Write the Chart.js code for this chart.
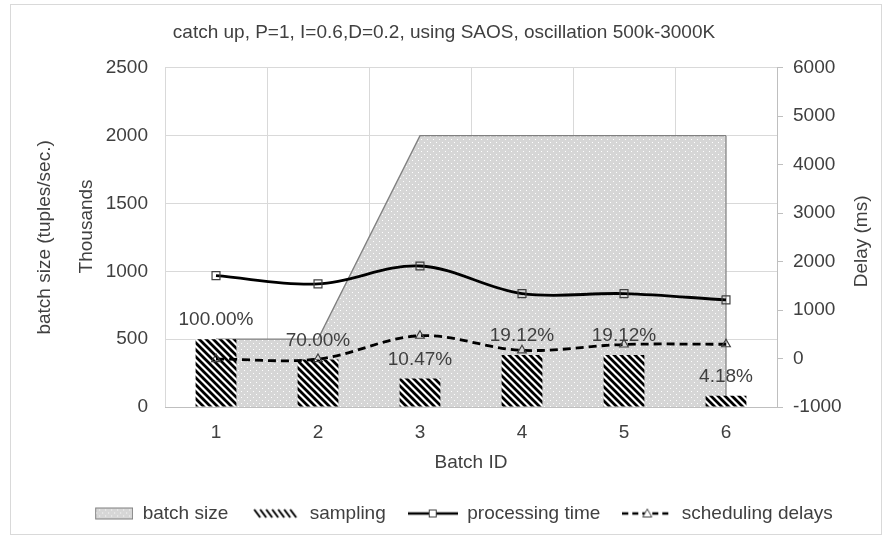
<!DOCTYPE html>
<html>
<head>
<meta charset="utf-8">
<script src="https://cdn.jsdelivr.net/npm/chart.js@4.4.1/dist/chart.umd.min.js"></script>
<style>
  html, body { margin: 0; padding: 0; background: #ffffff; }
  #wrap { width: 888px; height: 540px; }
</style>
</head>
<body>
<div id="wrap"><canvas id="c" width="888" height="540"></canvas></div>
<script>
// ---- data ----
const batchIds = ['1', '2', '3', '4', '5', '6'];
const batchSize = [500, 500, 2000, 2000, 2000, 2000];          // thousands of tuples/sec
const sampling = [500, 350, 209.4, 382.4, 382.4, 83.6];         // thousands of tuples/sec
const samplingLabels = ['100.00%', '70.00%', '10.47%', '19.12%', '19.12%', '4.18%'];
const processingTime = [1710, 1540, 1910, 1340, 1340, 1210];    // ms
const schedulingDelays = [-10, -10, 470, 170, 290, 295];        // ms
const leftTicks = [0, 500, 1000, 1500, 2000, 2500];
const rightTicks = [-1000, 0, 1000, 2000, 3000, 4000, 5000, 6000];

const TEXT = '#404040';
const FONT = '"Liberation Sans", Arial, sans-serif';
Chart.defaults.font.family = FONT;
Chart.defaults.font.size = 19;
Chart.defaults.color = TEXT;

function makeCanvas(w, h, draw) {
  const c = document.createElement('canvas');
  c.width = w; c.height = h;
  draw(c.getContext('2d'));
  return c;
}

// dotted light-grey fill
const dotTile = makeCanvas(6, 6, g => {
  g.fillStyle = '#d6d6d6'; g.fillRect(0, 0, 6, 6);
  g.fillStyle = '#ffffff';
  g.fillRect(1, 1, 1, 1); g.fillRect(4, 4, 1, 1);
});
// black diagonal hatch
const hatchTile = makeCanvas(7, 7, g => {
  g.fillStyle = '#ffffff'; g.fillRect(0, 0, 7, 7);
  g.strokeStyle = '#000000'; g.lineWidth = 2.8;
  g.beginPath();
  for (let k = -1; k <= 1; k++) { g.moveTo(k * 7 - 1, -1); g.lineTo(k * 7 + 8, 8); }
  g.stroke();
});

const canvas = document.getElementById('c');
const ctx = canvas.getContext('2d');
const dotPattern = ctx.createPattern(dotTile, 'repeat');
const hatchPattern = ctx.createPattern(hatchTile, 'repeat');

// legend symbols
const IW = 50, IH = 16;
const legendIcons = [
  makeCanvas(IW, IH, g => {
    g.fillStyle = g.createPattern(dotTile, 'repeat');
    g.fillRect(12, 2, 38, 12);
    g.strokeStyle = '#7f7f7f'; g.lineWidth = 1;
    g.strokeRect(12.5, 2.5, 37, 11);
  }),
  makeCanvas(IW, IH, g => {
    g.strokeStyle = '#000'; g.lineWidth = 2;
    g.beginPath();
    for (let x = 4; x <= 44; x += 6) { g.moveTo(x, 4); g.lineTo(x + 6, 12); }
    g.stroke();
  }),
  makeCanvas(IW, IH, g => {
    g.strokeStyle = '#000'; g.lineWidth = 2.6;
    g.beginPath(); g.moveTo(0, 8); g.lineTo(IW, 8); g.stroke();
    g.fillStyle = '#fff'; g.fillRect(21, 4, 8, 8);
    g.strokeStyle = '#404040'; g.lineWidth = 1; g.strokeRect(21.5, 4.5, 7, 7);
  }),
  makeCanvas(IW, IH, g => {
    g.strokeStyle = '#000'; g.lineWidth = 2.6; g.setLineDash([6, 4]);
    g.beginPath(); g.moveTo(0, 8); g.lineTo(IW, 8); g.stroke();
    g.setLineDash([]);
    g.fillStyle = '#fff'; g.strokeStyle = '#404040'; g.lineWidth = 1;
    g.beginPath(); g.moveTo(25, 3.5); g.lineTo(29.5, 11.5); g.lineTo(20.5, 11.5); g.closePath();
    g.fill(); g.stroke();
  })
];

// background, frame and rotated axis titles
const framePlugin = {
  id: 'frame',
  beforeDraw(chart) {
    const g = chart.ctx;
    g.save(); g.fillStyle = '#ffffff'; g.fillRect(0, 0, chart.width, chart.height); g.restore();
  },
  afterLayout(chart) {
    // legend sits slightly right of the canvas centre
    if (chart.legend) { chart.legend.left += 14; chart.legend.right += 14; }
  },
  afterDraw(chart) {
    const g = chart.ctx;
    const a = chart.chartArea;
    const midY = (a.top + a.bottom) / 2;
    g.save();
    g.strokeStyle = '#d9d9d9'; g.lineWidth = 1;
    g.strokeRect(10.5, 4.5, chart.width - 17, chart.height - 10);
    g.fillStyle = TEXT; g.font = '19px ' + FONT;
    g.textAlign = 'center'; g.textBaseline = 'middle';
    const rot = (text, x, y) => { g.save(); g.translate(x, y); g.rotate(-Math.PI / 2); g.fillText(text, 0, 0); g.restore(); };
    rot('batch size (tuples/sec.)', a.left - 120, midY);
    rot('Thousands', a.left - 78, midY - 11);
    rot('Delay (ms)', a.right + 85, midY + 4);
    g.restore();
  }
};

// right edge of the area series, down to the baseline
const areaEdgePlugin = {
  id: 'areaEdge',
  afterDatasetDraw(chart, args) {
    if (args.index !== 0) return;
    const pts = args.meta.data;
    const base = chart.scales.y.getPixelForValue(0);
    const g = chart.ctx;
    g.save();
    g.strokeStyle = '#808080'; g.lineWidth = 1.2;
    g.beginPath();
    const last = pts[pts.length - 1], first = pts[0];
    g.moveTo(last.x, last.y); g.lineTo(last.x, base);
    g.moveTo(first.x, first.y); g.lineTo(first.x, base);
    g.stroke();
    g.restore();
  }
};

// percentage labels above the sampling bars
const barLabelPlugin = {
  id: 'barLabels',
  afterDatasetsDraw(chart) {
    const meta = chart.getDatasetMeta(1);
    const g = chart.ctx;
    g.save();
    g.fillStyle = TEXT; g.font = '19px ' + FONT;
    g.textAlign = 'center'; g.textBaseline = 'middle';
    meta.data.forEach((bar, i) => g.fillText(samplingLabels[i], bar.x, bar.y - 19));
    g.restore();
  }
};

const plainTick = v => String(v);

new Chart(ctx, {
  type: 'bar',
  data: {
    labels: batchIds,
    datasets: [
      {
        type: 'line', label: 'batch size', data: batchSize, yAxisID: 'y',
        fill: 'origin', backgroundColor: dotPattern, borderColor: '#808080', borderWidth: 1.4,
        pointRadius: 0, tension: 0, order: 3
      },
      {
        type: 'bar', label: 'sampling', data: sampling, yAxisID: 'y',
        backgroundColor: hatchPattern, borderWidth: 0,
        barPercentage: 0.4, categoryPercentage: 1, order: 2
      },
      {
        type: 'line', label: 'processing time', data: processingTime, yAxisID: 'y1',
        borderColor: '#000000', borderWidth: 2.8, tension: 0.35, fill: false,
        pointStyle: 'rect', pointRadius: 5.6, pointBorderColor: '#404040', pointBorderWidth: 1.2,
        pointBackgroundColor: 'rgba(0,0,0,0)', order: 1
      },
      {
        type: 'line', label: 'scheduling delays', data: schedulingDelays, yAxisID: 'y1',
        borderColor: '#000000', borderWidth: 2.8, borderDash: [8, 5], tension: 0.35, fill: false,
        pointStyle: 'triangle', pointRadius: 5, pointBorderColor: '#404040', pointBorderWidth: 1.2,
        pointBackgroundColor: 'rgba(0,0,0,0)', order: 0
      }
    ]
  },
  options: {
    responsive: false,
    animation: false,
    devicePixelRatio: 1,
    layout: { padding: { left: 0, right: 0, top: 0, bottom: 7 } },
    plugins: {
      tooltip: { enabled: false },
      title: {
        display: true,
        text: 'catch up, P=1, I=0.6,D=0.2, using SAOS, oscillation 500k-3000K',
        color: TEXT,
        font: { size: 19, weight: 'normal' },
        padding: { top: 21, bottom: 24 }
      },
      legend: {
        position: 'bottom',
        labels: {
          usePointStyle: true, pointStyleWidth: IW, padding: 22,
          font: { size: 19 },
          generateLabels(chart) {
            return chart.data.datasets.map((ds, i) => ({
              text: ds.label, pointStyle: legendIcons[i], datasetIndex: i,
              fontColor: TEXT, fillStyle: 'rgba(0,0,0,0)', strokeStyle: 'rgba(0,0,0,0)',
              lineWidth: 0, hidden: false
            }));
          }
        }
      }
    },
    scales: {
      x: {
        offset: true,
        grid: { offset: true, color: '#d9d9d9', lineWidth: 1, drawTicks: false },
        border: { display: true, color: '#bfbfbf', width: 1 },
        ticks: { padding: 14, color: TEXT },
        title: { display: true, text: 'Batch ID', color: TEXT, font: { size: 19 }, padding: { top: 0, bottom: 8 } },
        afterFit(s) { s.height = 75; }
      },
      y: {
        position: 'left', min: 0, max: 2500,
        afterBuildTicks(s) { s.ticks = leftTicks.map(v => ({ value: v })); },
        grid: { color: '#d9d9d9', lineWidth: 1, drawTicks: false },
        border: { display: false },
        ticks: { padding: 17, color: TEXT, callback: plainTick },
        afterFit(s) { s.width = 165; }
      },
      y1: {
        position: 'right', min: -1000, max: 6000,
        afterBuildTicks(s) { s.ticks = rightTicks.map(v => ({ value: v })); },
        grid: { drawOnChartArea: false, color: '#bfbfbf', tickLength: 6 },
        border: { display: true, color: '#bfbfbf', width: 1 },
        ticks: { padding: 10, color: TEXT, callback: plainTick },
        afterFit(s) { s.width = 111; }
      }
    }
  },
  plugins: [framePlugin, areaEdgePlugin, barLabelPlugin]
});
</script>
</body>
</html>
